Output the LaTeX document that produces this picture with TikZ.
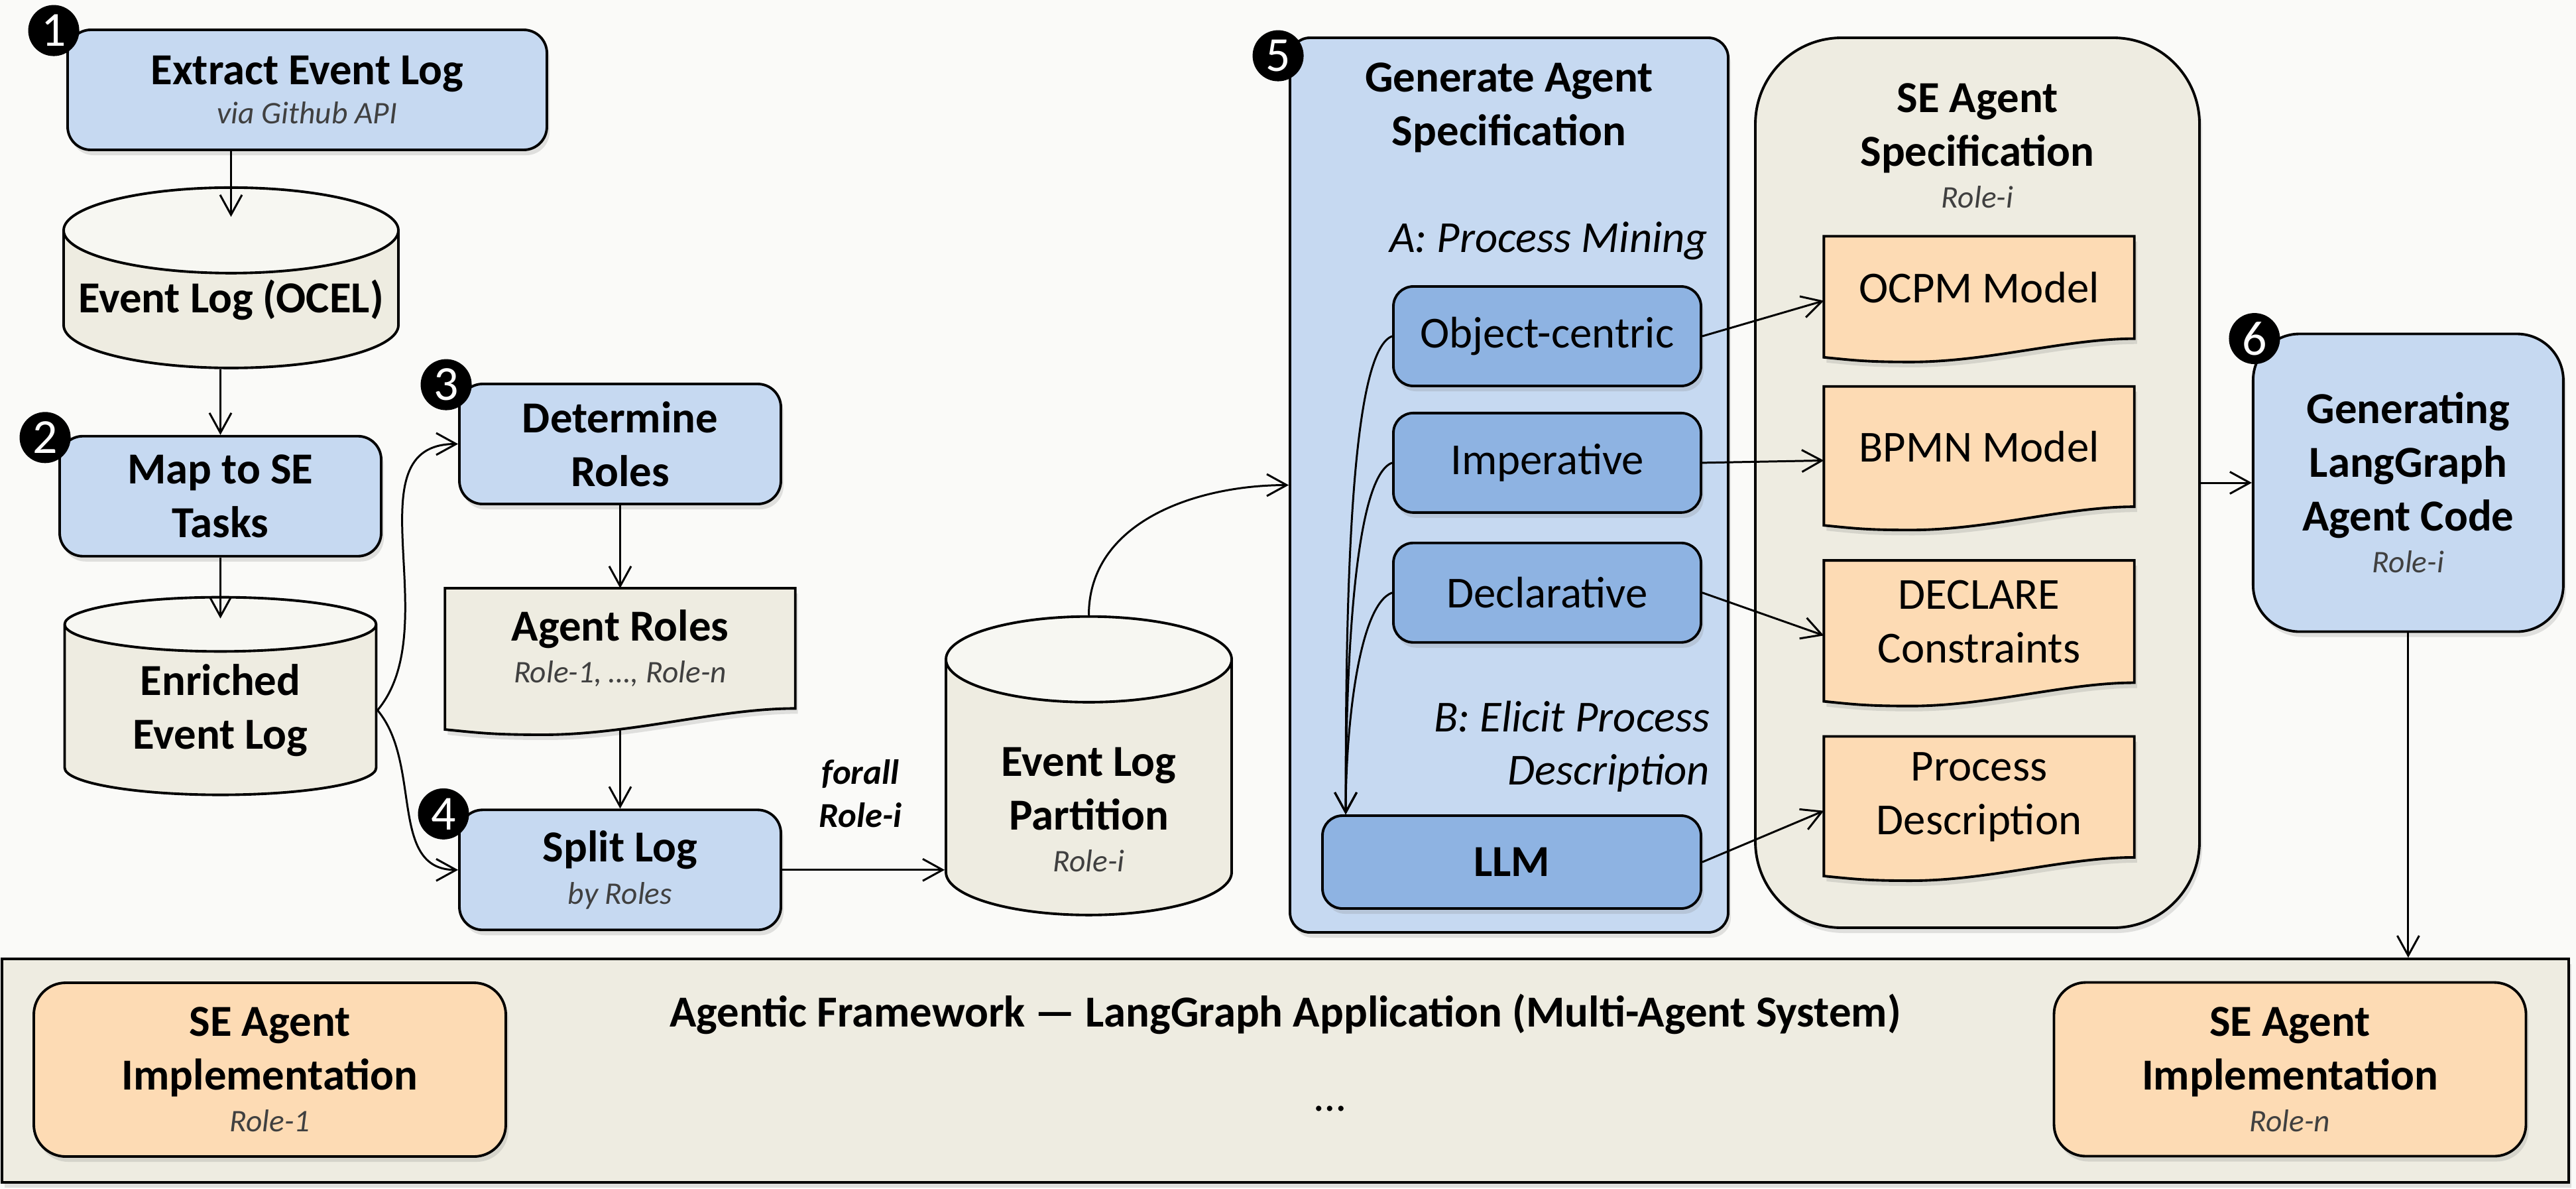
\documentclass[tikz,border=0pt]{standalone}
\usepackage{fontspec}
\setmainfont{Carlito}
\usetikzlibrary{%
  shapes,arrows.meta,positioning,calc,shadows,shapes.geometric}
\tikzstyle{line} = [draw, -{Straight Barb[length=3mm,width=3.3mm]},line width=.85pt,fill=none]
\definecolor{mBlue}{RGB}{198,217,241}
\definecolor{mDarkBlue}{RGB}{142,179,226}
\definecolor{mTan}{RGB}{238,236,225}
\definecolor{mTanLight}{RGB}{247,247,242}
\definecolor{mOrange}{RGB}{253,219,180}
\definecolor{mGray}{RGB}{64,64,64}
\definecolor{mPaper}{RGB}{250,250,248}
\pgfdeclarelayer{back}
\pgfdeclarelayer{mid}
\pgfsetlayers{back,mid,main}
\newcommand{\hdfont}{\fontsize{19}{23}\selectfont\bfseries}
\newcommand{\rgfont}{\fontsize{19}{23}\selectfont}
\newcommand{\itfont}{\fontsize{19}{23}\selectfont\itshape}
\newcommand{\forallfont}{\fontsize{15}{18.5}\selectfont\bfseries\itshape}
\newcommand{\badgefont}{\fontsize{21}{21}\selectfont}
\newcommand{\subtext}[1]{{\fontsize{13.5}{16}\selectfont\mdseries\itshape\color{mGray}#1}}
% document symbol with a wavy bottom, drawn under the node text
\newcommand{\docshape}[2][mTan]{%
  \begin{pgfonlayer}{mid}
    \path[draw,line width=1.1pt,fill=#1,boxshadow]
      let \p1 = ($(#2.south east)-(#2.south west)$) in
      (#2.north west) -- (#2.north east) -- (#2.south east)
      .. controls +(-0.22*\x1,0) and +(0.25*\x1,0)
      .. ($(#2.south west)+(0.28*\x1,-0.075*\x1)$)
      .. controls +(-0.14*\x1,0) and +(0.1*\x1,-0.01*\x1)
      .. ($(#2.south west)+(0,-0.06*\x1)$) -- cycle;
  \end{pgfonlayer}}

\begin{document}
\begin{tikzpicture}[
    boxshadow/.style={
      drop shadow={shadow xshift=0.04cm,shadow yshift=-0.08cm,opacity=0.22},
    },
    stepbox/.style={
      draw,
      rectangle,
      rounded corners=0.35cm,
      line width=1.1pt,
      fill=mBlue,
      minimum width=4.85cm,
      minimum height=1.81cm,
      align=center,
      inner sep=2pt,
      font=\hdfont,
      boxshadow,
    },
    innerbox/.style={
      draw,
      rectangle,
      rounded corners=0.3cm,
      line width=1.1pt,
      fill=mDarkBlue,
      minimum width=4.64cm,
      minimum height=1.5cm,
      align=center,
      inner sep=2pt,
      font=\rgfont,
      boxshadow,
    },
    implbox/.style={
      draw,
      rectangle,
      rounded corners=0.48cm,
      line width=1.1pt,
      fill=mOrange,
      minimum width=7.12cm,
      minimum height=2.62cm,
      align=center,
      inner sep=2pt,
      font=\hdfont,
      boxshadow,
    },
    container/.style={
      draw,
      rectangle,
      line width=1.1pt,
      inner sep=0pt,
      boxshadow,
    },
    dbcyl/.style={
      draw,
      cylinder,
      shape border rotate=90,
      line width=1.1pt,
      cylinder uses custom fill,
      cylinder body fill=mTan,
      cylinder end fill=mTanLight,
      align=center,
      inner sep=0pt,
      font=\hdfont,
    },
    docbox/.style={
      rectangle,
      minimum width=4.67cm,
      align=center,
      inner sep=0pt,
      font=\rgfont,
    },
    title/.style={
      align=center,
      inner sep=0pt,
      font=\hdfont,
    },
    badge/.style={
      circle,
      fill=black,
      text=white,
      minimum size=0.77cm,
      inner sep=0pt,
      font=\badgefont,
    },
  ]

  \useasboundingbox (0,0) rectangle (38.86,-17.92);

  \begin{pgfonlayer}{back}
    \fill[mPaper] (0,0) rectangle (38.86,-17.92);
    \node[container,fill=mBlue,rounded corners=0.3cm,
      minimum width=6.61cm,minimum height=13.49cm] (gen) at (22.765,-7.315) {};
    \node[container,fill=mTan,rounded corners=1.3cm,
      minimum width=6.70cm,minimum height=13.42cm] (spec) at (29.83,-7.28) {};
    \node[container,fill=mTan,
      minimum width=38.72cm,minimum height=3.37cm] (frame) at (19.39,-16.145) {};
  \end{pgfonlayer}

  % event log preparation
  \node[stepbox,minimum width=7.23cm] (extract) at (4.635,-1.355)
    {Extract Event Log\\[-6pt]\subtext{via Github API}};
  \node[dbcyl,minimum width=5.05cm,minimum height=2.72cm,aspect=0.28,
    below=0.53cm of extract,xshift=-1.15cm] (ocel) {Event Log (OCEL)};
  \node[stepbox,below=0.99cm of ocel,xshift=-0.16cm] (mapse) {Map to SE\\Tasks};
  \node[dbcyl,minimum width=4.70cm,minimum height=2.98cm,aspect=0.31,
    below=0.58cm of mapse] (enriched) {Enriched\\Event Log};

  % roles
  \node[stepbox] (determine) at (9.355,-6.695) {Determine\\Roles};
  \node[docbox,font=\hdfont,minimum width=5.27cm,minimum height=1.80cm,
    below=1.25cm of determine] (roles) {Agent Roles\\[-5pt]\subtext{Role-1, …, Role-n}};
  \node[stepbox,below=1.51cm of roles] (split) {Split Log\\[-5pt]\subtext{by Roles}};
  \node[font=\forallfont,align=center,anchor=south] (forall) at (12.98,-12.60) {forall\\Role-i};
  \node[dbcyl,minimum width=4.31cm,minimum height=4.50cm,aspect=0.49]
    (partition) at (16.425,-11.88) {\rule{0pt}{1.1cm}Event Log\\Partition\\[-5pt]\subtext{Role-i}};

  % agent specification
  \node[title,below=0.39cm of gen.north] (gentitle) {Generate Agent\\Specification};
  \node[font=\itfont,anchor=base east,inner sep=0pt] (pmlabel) at (25.77,-3.80) {A: Process Mining};
  \node[innerbox] (objc) at (23.34,-5.07) {Object-centric};
  \node[innerbox,below=0.37cm of objc] (imper) {Imperative};
  \node[innerbox,below=0.42cm of imper] (decl) {Declarative};
  \node[font=\itfont,align=right,anchor=north east,inner sep=0pt]
    (elicit) at (25.80,-10.56) {B: Elicit Process\\Description};
  \node[innerbox,font=\hdfont,minimum width=5.71cm,minimum height=1.40cm]
    (llm) at (22.805,-13.00) {LLM};

  \node[title,below=0.70cm of spec.north] (spectitle)
    {SE Agent\\Specification\\[-5pt]\subtext{Role-i}};
  \node[docbox,minimum height=1.53cm] (ocpm) at (29.855,-4.335) {OCPM Model};
  \node[docbox,minimum height=1.80cm,below=0.72cm of ocpm] (bpmn) {BPMN Model};
  \node[docbox,minimum height=1.83cm,below=0.81cm of bpmn] (declare) {DECLARE\\Constraints};
  \node[docbox,minimum height=1.81cm,below=0.81cm of declare] (procdesc) {Process\\Description};

  \node[stepbox,rounded corners=0.7cm,minimum width=4.68cm,minimum height=4.49cm,
    right=0.77cm of spec] (coding)
    {Generating\\LangGraph\\Agent Code\\[-5pt]\subtext{Role-i}};

  % multi-agent system
  \node[title,below=0.54cm of frame.north] (frametitle)
    {Agentic Framework — LangGraph Application (Multi-Agent System)};
  \node[implbox] (impl1) at (4.07,-16.13) {SE Agent\\Implementation\\[-5pt]\subtext{Role-1}};
  \node[implbox] (impln) at (34.545,-16.125) {SE Agent\\Implementation\\[-5pt]\subtext{Role-n}};
  \node[font=\rgfont,inner sep=0pt] (dots) at (20.07,-16.72) {…};

  \docshape[mTan]{roles}
  \docshape[mOrange]{ocpm}
  \docshape[mOrange]{bpmn}
  \docshape[mOrange]{declare}
  \docshape[mOrange]{procdesc}

  % step numbers
  \node[badge] (b1) at ([xshift=-0.19cm,yshift=-0.03cm]extract.north west) {1};
  \node[badge] (b2) at ([xshift=-0.2cm,yshift=-0.04cm]mapse.north west) {2};
  \node[badge] (b3) at ([xshift=-0.18cm,yshift=-0.03cm]determine.north west) {3};
  \node[badge] (b4) at ([xshift=-0.22cm,yshift=-0.08cm]split.north west) {4};
  \node[badge] (b5) at ([xshift=-0.16cm,yshift=-0.29cm]gen.north west) {5};
  \node[badge] (b6) at ([xshift=0.04cm,yshift=-0.09cm]coding.north west) {6};

  \draw[line] (extract.south -| ocel.north) -- ([yshift=-0.46cm]ocel.north);
  \draw[line] (ocel.south -| mapse.north) -- (mapse.north);
  \draw[line] (mapse.south) -- ([yshift=-0.34cm]enriched.north);
  \draw[line] (enriched.east) to[out=50,in=180] (determine.west);
  \draw[line] (enriched.east) to[out=-50,in=180] (split.west);
  \draw[line] (determine.south) -- (roles.north);
  \draw[line] ([yshift=-0.3cm]roles.south) -- (split.north);
  \draw[line] (split.east) -- (split.east -| partition.west);
  \draw[line] (partition.north) to[out=90,in=180] (gen.west);

  % mining variants also feed the LLM
  \draw[line] (objc.west) to[out=200,in=90,out looseness=.25] ([xshift=0.37cm]llm.north west);
  \draw[line] (imper.west) to[out=200,in=90,out looseness=.3] ([xshift=0.37cm]llm.north west);
  \draw[line] (decl.west) to[out=200,in=90,out looseness=.4] ([xshift=0.37cm]llm.north west);

  \draw[line] (objc.east) -- ([yshift=-0.2cm]ocpm.west);
  \draw[line] (imper.east) -- ([yshift=-0.21cm]bpmn.west);
  \draw[line] (decl.east) -- ([yshift=-0.21cm]declare.west);
  \draw[line] (llm.east) -- ([yshift=-0.21cm]procdesc.west);

  \draw[line] (spec.east) -- (coding.west);
  \draw[line] (coding.south) -- (coding.south |- frame.north);

\end{tikzpicture}
\end{document}
